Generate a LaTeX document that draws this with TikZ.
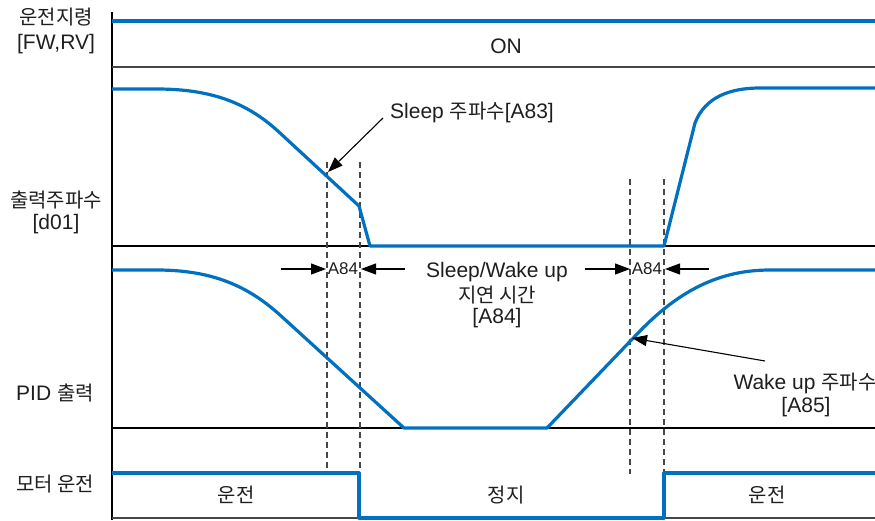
\documentclass[tikz,border=0pt]{standalone}
\usepackage{fontspec}
\setmainfont{Liberation Sans}
\newfontfamily\kr{Noto Sans CJK KR}[Scale=0.95]
\usetikzlibrary{arrows.meta}
\definecolor{wave}{RGB}{0,112,192}
\definecolor{txt}{RGB}{30,30,30}
\definecolor{grid}{RGB}{70,70,70}
\begin{document}
\begin{tikzpicture}[x=1pt,y=-1pt,
  lbl/.style={text=txt,font=\fontsize{21}{23}\selectfont,inner sep=0pt,anchor=center},
  small/.style={text=txt,font=\fontsize{17}{19}\selectfont,inner sep=0pt,anchor=center},
  axis/.style={black,line width=1.2pt},
  axisgray/.style={grid,line width=1.4pt},
  wavel/.style={wave,line width=3.2pt,line join=round},
  guide/.style={grid,line width=1.2pt,dash pattern=on 6pt off 4pt},
  pointer/.style={black,line width=1.1pt,-{Triangle[length=15pt,width=11pt]}}]
\useasboundingbox (0,0) rectangle (875,520);

% axes
\draw[axis] (112,12) -- (112,520);
\draw[axisgray] (112,67) -- (875,67);
\draw[axis] (112,246) -- (875,246);
\draw[axis] (112,428) -- (875,428);
\draw[axisgray] (112,518) -- (875,518);

% dashed guides
\draw[guide] (327,162) -- (327,472);
\draw[guide] (360,162) -- (360,472);
\draw[guide] (630,179) -- (630,474);
\draw[guide] (664,179) -- (664,474);

% run command
\draw[wavel] (112,21) -- (875,21);
\node[lbl] (on) at (506,46) {ON};

% output frequency
\draw[wavel] (112,89) -- (157,89) .. controls (215,89) and (250,105) .. (280,133)
  -- (359,206) -- (370,246) -- (664,246) -- (695,123)
  .. controls (705,97) and (730,88) .. (760,88) -- (875,88);

% PID output
\draw[wavel] (112,270) -- (157,270) .. controls (215,270) and (250,288) .. (280,315)
  -- (404,428) -- (547,428) -- (640,331)
  .. controls (680,290) and (720,270) .. (770,270) -- (875,270);

% motor run
\draw[wavel] (112,473) -- (359,473) -- (359,518) -- (664,518) -- (664,473) -- (875,473);

% left labels
\node[lbl] (l1a) at (56,17) {\kr 운전지령};
\node[lbl] (l1b) at (56,44) {[FW,RV]};
\node[lbl] (l2a) at (56,200) {\kr 출력주파수};
\node[lbl] (l2b) at (56,224) {[d01]};
\node[lbl] (l3) at (55,393) {PID {\kr 출력}};
\node[lbl] (l4) at (55,484) {\kr 모터 운전};

% motor state labels
\node[lbl] (m1) at (236,495) {\kr 운전};
\node[lbl] (m2) at (506,495) {\kr 정지};
\node[lbl] (m3) at (767,495) {\kr 운전};

% sleep annotation
\node[lbl] (sleep) at (472,112) {Sleep {\kr 주파수}[A83]};
\coordinate (sleepTail) at (383,118);
\coordinate (sleepPt) at (328,172);
\draw[pointer] (sleepTail) -- (sleepPt);

% delay annotations
\node[small] (d1) at (343,269) {A84};
\node[small] (d2) at (647,269) {A84};
\coordinate (d1la) at (281,269); \coordinate (d1lb) at (326,269);
\coordinate (d1ra) at (405,269); \coordinate (d1rb) at (361,269);
\coordinate (d2la) at (585,269); \coordinate (d2lb) at (630,269);
\coordinate (d2ra) at (709,269); \coordinate (d2rb) at (665,269);
\draw[pointer] (d1la) -- (d1lb);
\draw[pointer] (d1ra) -- (d1rb);
\draw[pointer] (d2la) -- (d2lb);
\draw[pointer] (d2ra) -- (d2rb);
\node[lbl] (sw1) at (497,272) {Sleep/Wake up};
\node[lbl] (sw2) at (497,295) {\kr 지연 시간};
\node[lbl] (sw3) at (497,318) {[A84]};

% wake annotation
\node[lbl] (wake1) at (805,383) {Wake up {\kr 주파수}};
\node[lbl] (wake2) at (806,407) {[A85]};
\coordinate (wakeTail) at (765,361);
\coordinate (wakePt) at (632,338);
\draw[pointer] (wakeTail) -- (wakePt);
\end{tikzpicture}
\end{document}
